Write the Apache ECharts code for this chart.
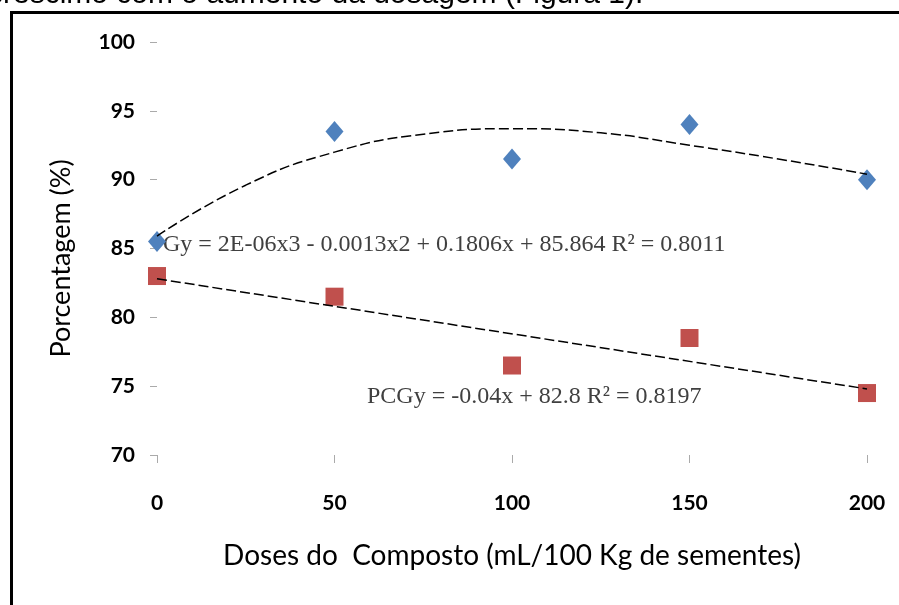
<!DOCTYPE html>
<html>
<head>
<meta charset="utf-8">
<script src="https://cdn.jsdelivr.net/npm/echarts@6/dist/echarts.min.js"></script>
<style>
  html, body { margin: 0; padding: 0; background: #fff; }
  #chart { width: 899px; height: 605px; }
</style>
</head>
<body>
<div id="chart"></div>
<script>
// doses (mL/100 Kg de sementes)
var doses = [0, 50, 100, 150, 200];
// G - diamantes azuis
var gValues = [85.5, 93.5, 91.5, 94, 90];
// PCG - quadrados vermelhos
var pcgValues = [83, 81.5, 76.5, 78.5, 74.5];
// linhas de tendencia
var gTrendX = [0, 25, 50, 75, 100, 125, 150, 175, 200];
var gTrendY = [85.9, 89.6, 92.0, 93.3, 93.7, 93.4, 92.5, 91.5, 90.4];
var pcgTrendX = [0, 200];
var pcgTrendY = [82.8, 74.8];
var yTicks = [70, 75, 80, 85, 90, 95, 100];

var gEq = 'Gy = 2E-06x3 - 0.0013x2 + 0.1806x + 85.864 R\u00b2 = 0.8011';
var pcgEq = 'PCGy = -0.04x + 82.8 R\u00b2 = 0.8197';

function pairs(xs, ys) {
  return xs.map(function (x, i) { return [x, ys[i]]; });
}

var myChart = echarts.init(document.getElementById('chart'));
myChart.setOption({
  animation: false,
  backgroundColor: '#fff',
  grid: { left: 157, right: 32, top: 42, bottom: 150 },
  xAxis: {
    type: 'value',
    min: 0, max: 200, interval: 50,
    name: 'Doses do  Composto (mL/100 Kg de sementes)',
    nameLocation: 'middle',
    nameGap: 87,
    nameTextStyle: { fontFamily: 'Lato', fontSize: 28, color: '#000' },
    axisLine: { show: false },
    axisTick: { show: true, length: 8, lineStyle: { color: '#aaa' } },
    axisLabel: { margin: 38, fontFamily: 'Lato', fontWeight: 'bold', fontSize: 21, color: '#000' },
    splitLine: { show: false }
  },
  yAxis: {
    type: 'value',
    min: yTicks[0], max: yTicks[yTicks.length - 1], interval: 5,
    name: 'Porcentagem (%)',
    nameLocation: 'middle',
    nameGap: 82,
    nameRotate: 90,
    nameTextStyle: { fontFamily: 'Lato', fontSize: 27, color: '#000', padding: [0, 0, 0, -20] },
    axisLine: { show: false },
    axisTick: { show: true, length: 7, lineStyle: { color: '#aaa' } },
    axisLabel: { margin: 22, fontFamily: 'Lato', fontWeight: 'bold', fontSize: 21, color: '#000' },
    splitLine: { show: false }
  },
  series: [
    {
      name: 'G',
      type: 'scatter',
      symbol: 'diamond',
      symbolSize: [18, 21],
      itemStyle: { color: '#4F81BD', opacity: 1 },
      data: pairs(doses, gValues),
      z: 2
    },
    {
      name: 'PCG',
      type: 'scatter',
      symbol: 'rect',
      symbolSize: [18, 18],
      itemStyle: { color: '#C0504D', opacity: 1 },
      data: pairs(doses, pcgValues),
      z: 2
    },
    {
      name: 'G tendencia',
      type: 'line',
      smooth: true,
      showSymbol: false,
      lineStyle: { color: '#000', width: 1.5, type: [10, 4] },
      data: pairs(gTrendX, gTrendY),
      z: 3
    },
    {
      name: 'PCG tendencia',
      type: 'line',
      showSymbol: false,
      lineStyle: { color: '#000', width: 1.5, type: [10, 4] },
      data: pairs(pcgTrendX, pcgTrendY),
      z: 3
    }
  ],
  graphic: [
    // moldura
    { type: 'line', shape: { x1: 11.5, y1: 11, x2: 11.5, y2: 605 }, style: { stroke: '#000', lineWidth: 3 } },
    { type: 'line', shape: { x1: 10, y1: 12.5, x2: 899, y2: 12.5 }, style: { stroke: '#000', lineWidth: 3 } },
    // texto cortado no topo
    {
      type: 'text', left: -12, top: -20,
      style: { text: 'crescimo com o aumento da dosagem (Figura 1).', font: '30px "Liberation Sans"', fill: '#000' }
    },
    // equacoes
    {
      type: 'text', left: 163, top: 233,
      style: { text: gEq, font: '24px "Liberation Serif"', fill: '#404040' }
    },
    {
      type: 'text', left: 367, top: 385,
      style: { text: pcgEq, font: '24px "Liberation Serif"', fill: '#404040' }
    }
  ]
});
</script>
</body>
</html>
